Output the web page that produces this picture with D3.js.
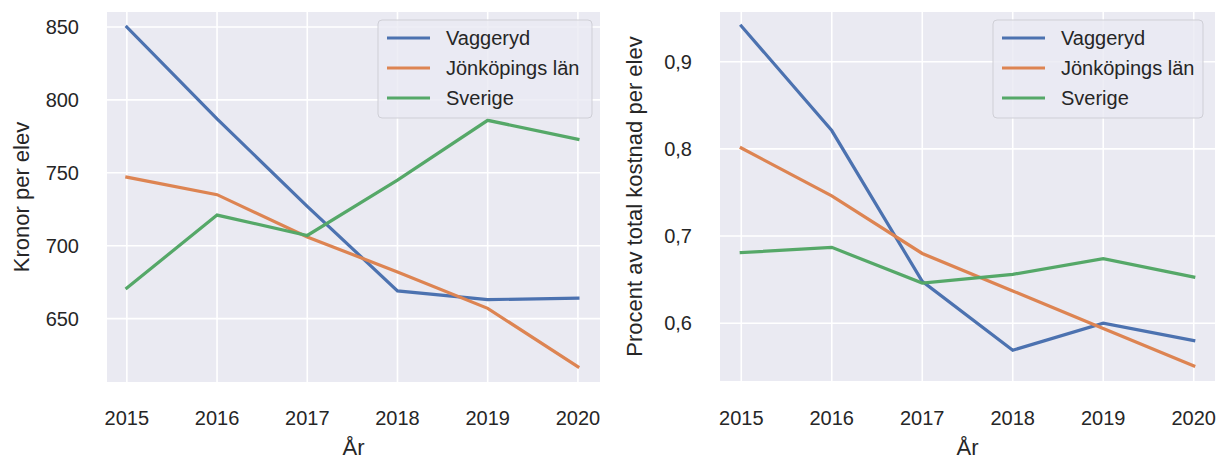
<!DOCTYPE html>
<html>
<head>
<meta charset="utf-8">
<script src="https://cdn.jsdelivr.net/npm/d3@7"></script>
<style>
  body { margin: 0; background: #fff; }
  text { font-family: "Liberation Sans", Arial, sans-serif; fill: #262626; }
</style>
</head>
<body>
<div id="chart"></div>
<script>
// data
const years = [2015, 2016, 2017, 2018, 2019, 2020]
const seriesNames = ['Vaggeryd', 'Jönköpings län', 'Sverige']
const seriesColors = ['#4C72B0', '#DD8452', '#55A868']

const kronorVaggeryd = [850, 787, 727, 669, 663, 664]
const kronorLan = [747, 735, 706, 682, 657, 617]
const kronorSverige = [671, 721, 707, 745, 786, 773]
const kronorTicks = [650, 700, 750, 800, 850]

const procentVaggeryd = [0.941, 0.821, 0.648, 0.569, 0.600, 0.580]
const procentLan = [0.801, 0.746, 0.680, 0.637, 0.594, 0.551]
const procentSverige = [0.681, 0.687, 0.646, 0.656, 0.674, 0.653]
const procentTicks = [0.6, 0.7, 0.8, 0.9]

const svg = d3.select('#chart')
    .append('svg')
    .attr('width', 1217)
    .attr('height', 459)

const sv = d3.formatLocale({decimal: ',', thousands: ' ', grouping: [3], currency: ['', ' kr']})

function drawPanel(opts){
    const {left, right, top, bottom, xDomain, yDomain, series, yTicks, yFormat, yLabel, legendX, legendW} = opts

    const x = d3.scaleLinear().domain(xDomain).range([left, right])
    const y = d3.scaleLinear().domain(yDomain).range([bottom, top])

    const g = svg.append('g')

    // background
    g.append('rect')
        .attr('x', left).attr('y', top)
        .attr('width', right - left).attr('height', bottom - top)
        .attr('fill', '#EAEAF2')

    // grid
    g.selectAll('.vgrid').data(years).enter().append('line')
        .attr('x1', d => x(d)).attr('x2', d => x(d))
        .attr('y1', top).attr('y2', bottom)
        .attr('stroke', '#fff').attr('stroke-width', 1.6)
    g.selectAll('.hgrid').data(yTicks).enter().append('line')
        .attr('x1', left).attr('x2', right)
        .attr('y1', d => y(d)).attr('y2', d => y(d))
        .attr('stroke', '#fff').attr('stroke-width', 1.6)

    // tick labels
    g.selectAll('.xt').data(years).enter().append('text')
        .attr('x', d => x(d)).attr('y', 425)
        .attr('text-anchor', 'middle')
        .style('font-size', '20px')
        .text(d => d)
    g.selectAll('.yt').data(yTicks).enter().append('text')
        .attr('x', left - 28).attr('y', d => y(d) + 7)
        .attr('text-anchor', 'end')
        .style('font-size', '20px')
        .text(d => yFormat(d))

    // axis labels
    g.append('text')
        .attr('x', (left + right) / 2).attr('y', 455)
        .attr('text-anchor', 'middle')
        .style('font-size', '22px')
        .text('År')
    g.append('text')
        .attr('transform', `translate(${left - 78}, ${(top + bottom) / 2}) rotate(-90)`)
        .attr('text-anchor', 'middle')
        .style('font-size', '22px')
        .text(yLabel)

    // lines
    const line = d3.line()
        .x((d, i) => x(years[i]))
        .y(d => y(d))
    series.forEach((s, i) => {
        g.append('path')
            .attr('d', line(s))
            .attr('fill', 'none')
            .attr('stroke', seriesColors[i])
            .attr('stroke-width', 3.2)
            .attr('stroke-linecap', 'square')
    })

    // legend
    const lg = g.append('g').attr('transform', `translate(${legendX}, 20)`)
    lg.append('rect')
        .attr('width', legendW).attr('height', 98)
        .attr('rx', 4)
        .attr('fill', 'rgba(234,234,242,0.8)')
        .attr('stroke', '#cfcfd6').attr('stroke-width', 1)
    seriesNames.forEach((name, i) => {
        const ly = 18 + i * 30
        lg.append('line')
            .attr('x1', 9).attr('x2', 52)
            .attr('y1', ly).attr('y2', ly)
            .attr('stroke', seriesColors[i]).attr('stroke-width', 3.2)
        lg.append('text')
            .attr('x', 68).attr('y', ly + 7)
            .style('font-size', '20px')
            .text(name)
    })
}

drawPanel({
    left: 107, right: 600, top: 12, bottom: 382,
    xDomain: [2014.78, 2020.245],
    yDomain: [606.5, 860.3],
    series: [kronorVaggeryd, kronorLan, kronorSverige],
    yTicks: kronorTicks,
    yFormat: d => d,
    yLabel: 'Kronor per elev',
    legendX: 378, legendW: 214
})

drawPanel({
    left: 720, right: 1215, top: 12, bottom: 381,
    xDomain: [2014.765, 2020.235],
    yDomain: [0.5337, 0.957],
    series: [procentVaggeryd, procentLan, procentSverige],
    yTicks: procentTicks,
    yFormat: sv.format('.1f'),
    yLabel: 'Procent av total kostnad per elev',
    legendX: 993, legendW: 210
})
</script>
</body>
</html>
